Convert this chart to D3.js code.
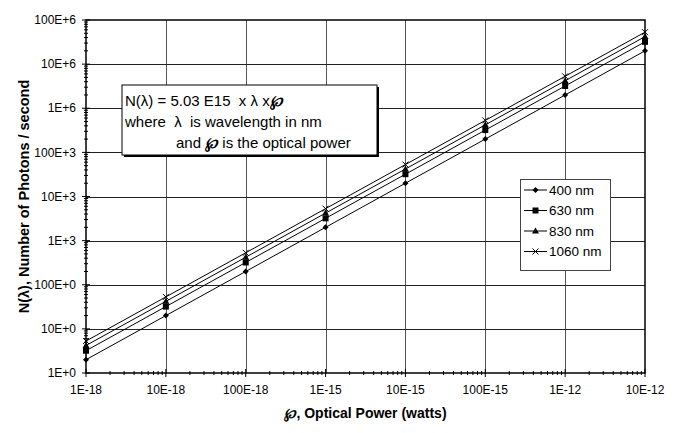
<!DOCTYPE html>
<html>
<head>
<meta charset="utf-8">
<script src="https://cdn.jsdelivr.net/npm/d3@7"></script>
<style>
  body { margin: 0; background: #fff; }
  svg { font-family: "Liberation Sans", Arial, sans-serif; }
</style>
</head>
<body>
<div class="home"></div>
<script>
// Optical power (watts), one point per decade
var power = [1e-18, 1e-17, 1e-16, 1e-15, 1e-14, 1e-13, 1e-12, 1e-11];

// Photons / second for each wavelength
var n400  = [2.0, 20, 200, 2.0e3, 20e3, 200e3, 2.0e6, 20e6];
var n630  = [3.2, 32, 320, 3.2e3, 32e3, 320e3, 3.2e6, 32e6];
var n830  = [4.2, 42, 420, 4.2e3, 42e3, 420e3, 4.2e6, 42e6];
var n1060 = [5.3, 53, 530, 5.3e3, 53e3, 530e3, 5.3e6, 53e6];

var seriesNames = ["400 nm", "630 nm", "830 nm", "1060 nm"];
var seriesMarks = ["diamond", "square", "triangle", "cross"];

// tick labels as printed on the axes
var xTickVals = [1e-18, 1e-17, 1e-16, 1e-15, 1e-14, 1e-13, 1e-12, 1e-11];
var xTickLabels = ["1E-18", "10E-18", "100E-18", "1E-15", "10E-15", "100E-15", "1E-12", "10E-12"];
var yTickVals = [1, 10, 100, 1e3, 1e4, 1e5, 1e6, 1e7, 1e8];
var yTickLabels = ["1E+0", "10E+0", "100E+0", "1E+3", "10E+3", "100E+3", "1E+6", "10E+6", "100E+6"];

var width = 686, height = 433;
// plot area edges (window.top is reserved, so prefix them)
var pLeft = 86, pRight = 645, pTop = 20, pBottom = 373;

var svg = d3.select(".home").append("svg")
    .attr("width", width)
    .attr("height", height);

var x = d3.scaleLog().domain([1e-18, 1e-11]).range([pLeft, pRight]);
var y = d3.scaleLog().domain([1, 1e8]).range([pBottom, pTop]);

// grid lines
svg.selectAll(".vgrid")
    .data(xTickVals.slice(1, -1))
    .enter().append("line")
    .attr("x1", function (d) { return Math.round(x(d)) + 0.5; })
    .attr("x2", function (d) { return Math.round(x(d)) + 0.5; })
    .attr("y1", pTop).attr("y2", pBottom)
    .attr("stroke", "#555").attr("stroke-width", 1);

svg.selectAll(".hgrid")
    .data(yTickVals.slice(1, -1))
    .enter().append("line")
    .attr("y1", function (d) { return Math.round(y(d)) + 0.5; })
    .attr("y2", function (d) { return Math.round(y(d)) + 0.5; })
    .attr("x1", pLeft).attr("x2", pRight)
    .attr("stroke", "#222").attr("stroke-width", 1);

// minor ticks
var xMinor = [], yMinor = [];
xTickVals.slice(0, -1).forEach(function (d) {
    for (var k = 2; k < 10; k++) xMinor.push(d * k);
});
yTickVals.slice(0, -1).forEach(function (d) {
    for (var k = 2; k < 10; k++) yMinor.push(d * k);
});

svg.selectAll(".xminor")
    .data(xMinor)
    .enter().append("line")
    .attr("x1", function (d) { return x(d); })
    .attr("x2", function (d) { return x(d); })
    .attr("y1", pBottom - 2).attr("y2", pBottom + 2)
    .attr("stroke", "#000");

svg.selectAll(".yminor")
    .data(yMinor)
    .enter().append("line")
    .attr("y1", function (d) { return y(d); })
    .attr("y2", function (d) { return y(d); })
    .attr("x1", pLeft - 2).attr("x2", pLeft + 2)
    .attr("stroke", "#000");

// major ticks
svg.selectAll(".xmajor")
    .data(xTickVals)
    .enter().append("line")
    .attr("x1", function (d) { return x(d); })
    .attr("x2", function (d) { return x(d); })
    .attr("y1", pBottom - 4).attr("y2", pBottom + 4)
    .attr("stroke", "#000");

svg.selectAll(".ymajor")
    .data(yTickVals)
    .enter().append("line")
    .attr("y1", function (d) { return y(d); })
    .attr("y2", function (d) { return y(d); })
    .attr("x1", pLeft - 4).attr("x2", pLeft + 4)
    .attr("stroke", "#000");

// plot frame
svg.append("rect")
    .attr("x", pLeft).attr("y", pTop)
    .attr("width", pRight - pLeft).attr("height", pBottom - pTop)
    .attr("fill", "none").attr("stroke", "#000").attr("stroke-width", 1.5);

// tick labels
svg.selectAll(".xlab")
    .data(xTickVals)
    .enter().append("text")
    .attr("x", function (d) { return x(d); })
    .attr("y", pBottom + 21)
    .attr("text-anchor", "middle")
    .style("font-size", "12px")
    .text(function (d, i) { return xTickLabels[i]; });

svg.selectAll(".ylab")
    .data(yTickVals)
    .enter().append("text")
    .attr("x", pLeft - 10)
    .attr("y", function (d) { return y(d); })
    .attr("dy", "0.35em")
    .attr("text-anchor", "end")
    .style("font-size", "12px")
    .text(function (d, i) { return yTickLabels[i]; });

// axis titles
svg.append("text")
    .attr("x", (pLeft + pRight) / 2)
    .attr("y", 418)
    .attr("text-anchor", "middle")
    .style("font-size", "14px").style("font-weight", "bold")
    .html('<tspan font-style="italic">\u2118</tspan>, Optical Power (watts)');

svg.append("text")
    .attr("transform", "translate(29," + (pTop + pBottom) / 2 + ") rotate(-90)")
    .attr("text-anchor", "middle")
    .style("font-size", "14.5px").style("font-weight", "bold")
    .text("N(\u03bb), Number of Photons / second");

// series
var allSeries = [n400, n630, n830, n1060];
var line = d3.line()
    .x(function (d, i) { return x(power[i]); })
    .y(function (d) { return y(d); });

function drawMark(g, kind, cx, cy) {
    if (kind == "diamond") {
        g.append("path").attr("d", "M" + cx + "," + (cy - 3) + "L" + (cx + 3) + "," + cy +
            "L" + cx + "," + (cy + 3) + "L" + (cx - 3) + "," + cy + "Z").attr("fill", "#000");
    } else if (kind == "square") {
        g.append("rect").attr("x", cx - 3).attr("y", cy - 3)
            .attr("width", 6).attr("height", 6).attr("fill", "#000");
    } else if (kind == "triangle") {
        g.append("path").attr("d", "M" + cx + "," + (cy - 3.5) + "L" + (cx + 3.5) + "," + (cy + 2.5) +
            "L" + (cx - 3.5) + "," + (cy + 2.5) + "Z").attr("fill", "#000");
    } else {
        g.append("path").attr("d", "M" + (cx - 3) + "," + (cy - 3) + "L" + (cx + 3) + "," + (cy + 3) +
            "M" + (cx - 3) + "," + (cy + 3) + "L" + (cx + 3) + "," + (cy - 3))
            .attr("stroke", "#000").attr("fill", "none");
    }
}

allSeries.forEach(function (vals, s) {
    svg.append("path")
        .datum(vals)
        .attr("d", line)
        .attr("fill", "none")
        .attr("stroke", "#000")
        .attr("stroke-width", 1);
    var g = svg.append("g");
    vals.forEach(function (v, i) {
        drawMark(g, seriesMarks[s], x(power[i]), y(v));
    });
});

// formula box
svg.append("rect")
    .attr("x", 124).attr("y", 87).attr("width", 255).attr("height", 70)
    .attr("fill", "#000");
svg.append("rect")
    .attr("x", 122).attr("y", 85).attr("width", 255).attr("height", 70)
    .attr("fill", "#fff").attr("stroke", "#000").attr("stroke-width", 1);

var note = svg.append("g").style("font-size", "15px");
note.append("text").attr("x", 125).attr("y", 106)
    .html('N(\u03bb) = 5.03 E15 \u00a0x \u03bb x<tspan font-style="italic" font-weight="bold">\u2118</tspan>');
note.append("text").attr("x", 125).attr("y", 127)
    .text("where \u00a0\u03bb \u00a0is wavelength in nm");
note.append("text").attr("x", 176).attr("y", 148)
    .html('and <tspan font-style="italic" font-weight="bold">\u2118</tspan> is the optical power');

// legend
var legend = svg.append("g");
legend.append("rect")
    .attr("x", 520.5).attr("y", 179.5).attr("width", 90).attr("height", 91)
    .attr("fill", "#fff").attr("stroke", "#444");
seriesNames.forEach(function (name, i) {
    var ly = 190 + i * 20.5;
    legend.append("line")
        .attr("x1", 524).attr("x2", 547)
        .attr("y1", ly).attr("y2", ly)
        .attr("stroke", "#000");
    drawMark(legend, seriesMarks[i], 535.5, ly);
    legend.append("text")
        .attr("x", 549).attr("y", ly).attr("dy", "0.35em")
        .style("font-size", "13.5px")
        .text(name);
});
</script>
</body>
</html>
